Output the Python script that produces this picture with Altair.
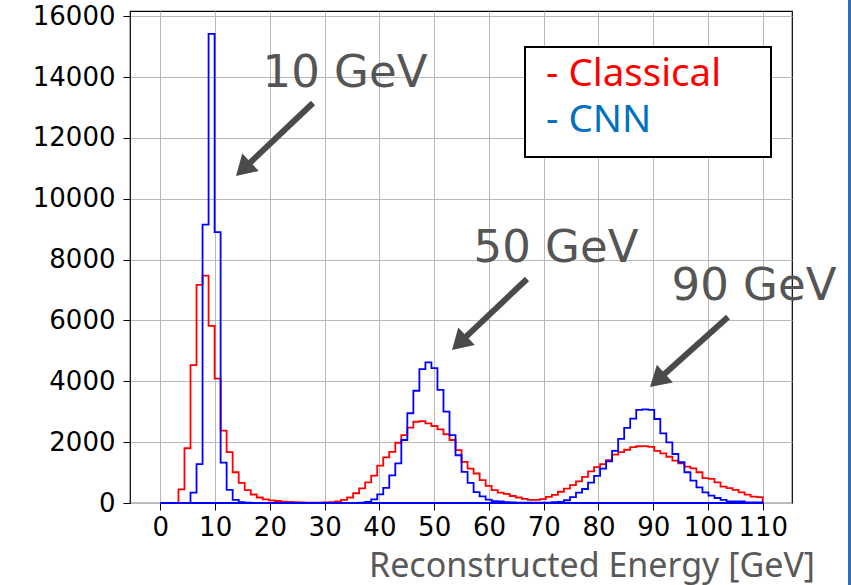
import math
import altair as alt
import pandas as pd

# ---------------- data (counts per 1.1 GeV bin, 0..110 GeV) ----------------
bin_edges = [round(i * 1.1, 4) for i in range(101)]

classical = [
    0, 0, 0, 450, 1800, 4530, 7170, 7470, 5820, 4090,
    2380, 1670, 1010, 660, 420, 280, 180, 120, 85, 65,
    45, 35, 25, 20, 15, 15, 15, 20, 30, 55,
    100, 180, 320, 480, 680, 900, 1230, 1500, 1680, 1980,
    2230, 2480, 2670, 2690, 2615, 2530, 2420, 2260, 2070, 1740,
    1350, 1130, 970, 750, 560, 420, 340, 300, 230, 180,
    135, 100, 100, 130, 200, 270, 370, 470, 590, 710,
    860, 1040, 1180, 1280, 1410, 1590, 1670, 1750, 1835, 1865,
    1870, 1845, 1715, 1630, 1520, 1390, 1300, 1195, 1140, 1010,
    820, 790, 680, 540, 490, 430, 350, 275, 210, 190,
]

cnn = [
    0, 0, 0, 0, 0, 340, 1280, 9150, 15420, 8900,
    1330, 430, 100, 25, 10, 5, 0, 0, 0, 0,
    0, 0, 0, 0, 0, 0, 0, 0, 0, 0,
    0, 0, 5, 10, 40, 120, 285, 500, 910, 1300,
    2070, 2950, 3690, 4400, 4620, 4430, 3715, 3000, 2230, 1570,
    1020, 660, 360, 220, 110, 60, 50, 30, 20, 10,
    10, 10, 10, 10, 15, 25, 40, 90, 190, 340,
    460, 670, 890, 1130, 1370, 1710, 2110, 2470, 2770, 3060,
    3080, 3060, 2760, 2290, 1995, 1610, 1340, 1010, 735, 515,
    350, 240, 165, 100, 55, 55, 55, 20, 20, 20,
]

x_ticks = list(range(0, 111, 10))
y_ticks = list(range(0, 16001, 2000))
x_title = "Reconstructed Energy [GeV]"
legend_labels = ["- Classical", "- CNN"]
peak_labels = ["10 GeV", "50 GeV", "90 GeV"]


def step_rows(values, name):
    rows = []
    for i, v in enumerate(values):
        rows.append({"x": bin_edges[i], "y": v, "series": name, "o": i})
    rows.append({"x": bin_edges[-1], "y": values[-1], "series": name, "o": 100})
    rows.append({"x": bin_edges[-1], "y": 0, "series": name, "o": 101})
    rows.append({"x": bin_edges[0], "y": 0, "series": name, "o": 102})
    return rows


hist = pd.DataFrame(step_rows(classical, "Classical") + step_rows(cnn, "CNN"))

x_scale = alt.Scale(domain=[-5.55, 115.35], nice=False, zero=False)
y_scale = alt.Scale(domain=[0, 16170], nice=False)

x_axis = alt.Axis(values=x_ticks, title=None, grid=True, gridColor="#b9b9b9",
                  gridWidth=1, domain=False, tickColor="black", tickSize=7,
                  labelFont="DejaVu Sans", labelFontSize=26, labelColor="black",
                  labelPadding=4, labelOverlap=False, labelFlush=False, format="d")
y_axis = alt.Axis(values=y_ticks, title=None, grid=True, gridColor="#b9b9b9",
                  gridWidth=1, domain=False, tickColor="black", tickSize=7,
                  labelFont="DejaVu Sans", labelFontSize=26, labelColor="black",
                  labelPadding=8, labelOverlap=False, format="d")


def hist_layer(name, color):
    return alt.Chart(hist[hist.series == name]).mark_line(
        interpolate="step-after", color=color, strokeWidth=1.8
    ).encode(
        x=alt.X("x:Q", scale=x_scale, axis=x_axis),
        y=alt.Y("y:Q", scale=y_scale, axis=y_axis),
        order=alt.Order("o:Q"),
    )


one = pd.DataFrame({"a": [0]})
GRAY = "#4a4a4a"


def text_layer(label, x, y, size, color, align="center", font="Noto Sans"):
    return alt.Chart(one).mark_text(
        text=label, align=align, baseline="alphabetic", fontSize=size,
        color=color, font=font
    ).encode(x=alt.value(x), y=alt.value(y))


def arrow_layers(start, tip):
    dx, dy = tip[0] - start[0], tip[1] - start[1]
    length = math.hypot(dx, dy)
    ux, uy = dx / length, dy / length
    head = 20
    end = (tip[0] - ux * (head - 2), tip[1] - uy * (head - 2))
    ang = math.degrees(math.atan2(dx, -dy)) % 360
    shaft = alt.Chart(one).mark_rule(color=GRAY, strokeWidth=6).encode(
        x=alt.value(start[0]), y=alt.value(start[1]),
        x2=alt.value(end[0]), y2=alt.value(end[1]))
    tip_mark = alt.Chart(one).mark_point(
        shape="M0,0L-0.6,1L0.6,1Z", filled=True, size=(2 * head) ** 2,
        angle=ang, color=GRAY, opacity=1, strokeWidth=0
    ).encode(x=alt.value(tip[0]), y=alt.value(tip[1]))
    return [shaft, tip_mark]


# annotation placement (pixels inside the plot area)
peak_text_pos = [(215, 76), (426, 251), (624, 289)]
arrow_pos = [((183, 92), (106, 165)), ((397, 268), (322, 339)), ((598, 306), (520, 376))]

layers = [hist_layer("Classical", "#ff0000"), hist_layer("CNN", "#0000ff")]
for lab, (px, py) in zip(peak_labels, peak_text_pos):
    layers.append(text_layer(lab, px, py, 45, "#555555", font="DejaVu Sans"))
for s, t in arrow_pos:
    layers += arrow_layers(s, t)

legend_box = alt.Chart(one).mark_rect(fill="white", stroke="black", strokeWidth=2).encode(
    x=alt.value(395), x2=alt.value(641), y=alt.value(36), y2=alt.value(146))
layers.append(legend_box)
layers.append(text_layer(legend_labels[0], 416, 75, 38.5, "#ff0000", align="left"))
layers.append(text_layer(legend_labels[1], 416, 121, 38.5, "#0070c0", align="left"))
layers.append(text_layer(x_title, 685, 566, 34, "#595959", align="right"))

border = alt.Chart(one).mark_rule(color="#2e6fb7", strokeWidth=3).encode(
    x=alt.value(719.5), y=alt.value(-11), y2=alt.value(574))
layers.append(border)

chart = alt.layer(*layers).properties(
    width=662, height=492,
    padding={"left": 130, "top": 11, "right": 59, "bottom": 82},
    autosize=alt.AutoSizeParams(type="none"),
    background="white",
).configure_view(stroke="black", strokeWidth=1.2)

chart.save("out.html", embed_options={"renderer": "svg", "actions": False})
